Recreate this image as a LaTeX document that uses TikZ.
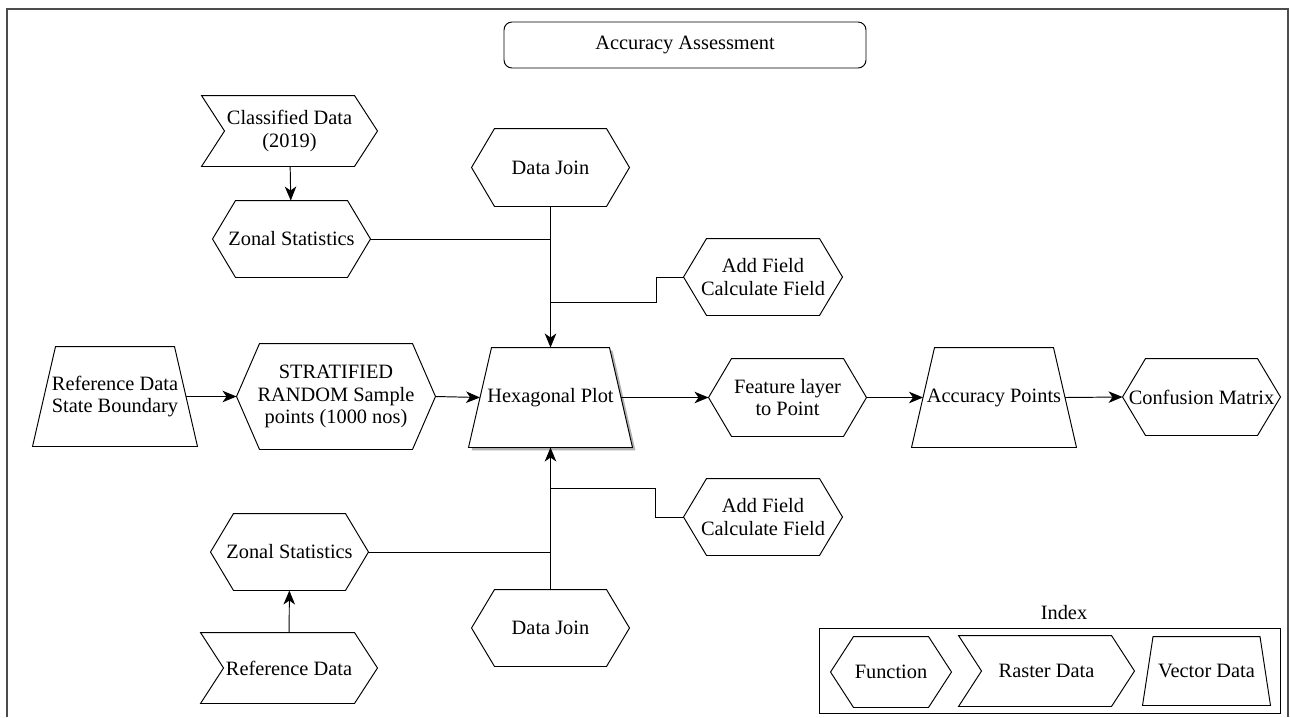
\documentclass[tikz,border=0pt]{standalone}
\usepackage{fontspec}
\setmainfont{Liberation Serif}
\usetikzlibrary{arrows.meta,positioning,calc,backgrounds}
\newlength\pxu
\setlength\pxu{0.02cm}

\begin{document}
\begin{tikzpicture}[
  x=0.02cm, y=-0.02cm,
  >={Stealth[length=2.8mm,width=2.3mm,inset=0.8mm]},
  every path/.style={line width=.55pt},
  shp/.style={rectangle,inner sep=0pt,align=center,font=\fontsize{11.6}{12.8}\selectfont},
  % function: hexagon
  fn/.style 2 args={shp,minimum width=#1\pxu,minimum height=#2\pxu,
    append after command={\pgfextra{\let\nd\tikzlastnode
      \draw (\nd.west) -- ([xshift=23\pxu]\nd.north west)
      -- ([xshift=-23\pxu]\nd.north east) -- (\nd.east)
      -- ([xshift=-23\pxu]\nd.south east)
      -- ([xshift=23\pxu]\nd.south west) -- cycle;}}},
  % raster data: chevron
  ras/.style 2 args={shp,minimum width=#1\pxu,minimum height=#2\pxu,
    append after command={\pgfextra{\let\nd\tikzlastnode
      \draw (\nd.north west) -- ([xshift=-23\pxu]\nd.north east)
      -- (\nd.east) -- ([xshift=-23\pxu]\nd.south east)
      -- (\nd.south west) -- ([xshift=23\pxu]\nd.west) -- cycle;}}},
  % vector data: trapezoid (width taken at mid height)
  vec/.style n args={3}{shp,minimum width=#1\pxu,minimum height=#2\pxu,
    append after command={\pgfextra{\let\nd\tikzlastnode
      \draw ([xshift=#3\pxu]\nd.north west) -- ([xshift=-#3\pxu]\nd.north east)
      -- ([xshift=#3\pxu]\nd.south east) -- ([xshift=-#3\pxu]\nd.south west) -- cycle;}}},
  frame/.style={draw=black!70,line width=1.1pt}
]
\useasboundingbox (0,0) rectangle (1290,717);
\draw[frame] (7,717) -- (7,9) -- (1288,9) -- (1288,717);

\node[shp,draw,rounded corners=1.6mm,minimum width=362\pxu,minimum height=46\pxu] (title) at (685,45) {Accuracy Assessment};

% upper branch
\node[ras={175}{70}] (cls) at (289.5,131) {Classified Data\\(2019)};
\node[fn={157}{76}] (zs1) at (291.5,239) {Zonal Statistics};
\node[fn={157}{77}] (dj1) at (550.5,167.5) {Data Join};
\node[fn={158}{76}] (af1) at (763,277) {Add Field\\Calculate Field};

% main row
\node[vec={141}{99}{11.5}] (refsb) at (115,396.5) {Reference Data\\State Boundary};
\node[fn={198}{105}] (strat) at (336,396.5) {STRATIFIED\\RANDOM Sample\\points (1000 nos)};
\node[vec={140}{99}{11.5}] (hexplot) at (550.5,397.5) {Hexagonal Plot};
\node[fn={157}{77}] (feat) at (787.5,397.5) {Feature layer\\to Point};
\node[vec={141}{99}{11.5}] (accpts) at (994,397.5) {Accuracy Points};
\node[fn={157}{76}] (conf) at (1201.5,397) {Confusion Matrix};

% lower branch
\node[fn={157}{76}] (zs2) at (289.5,552) {Zonal Statistics};
\node[ras={176}{70}] (refd) at (289,668) {Reference Data};
\node[fn={157}{76}] (dj2) at (550.5,628) {Data Join};
\node[fn={158}{76}] (af2) at (763,517) {Add Field\\Calculate Field};

\begin{scope}[on background layer]
  \fill[black!30] ([xshift=14.5\pxu,yshift=-3\pxu]hexplot.north west) -- ([xshift=-8.5\pxu,yshift=-3\pxu]hexplot.north east)
    -- ([xshift=14.5\pxu,yshift=-3\pxu]hexplot.south east) -- ([xshift=-8.5\pxu,yshift=-3\pxu]hexplot.south west) -- cycle;
  \fill[white] ([xshift=11.5\pxu]hexplot.north west) -- ([xshift=-11.5\pxu]hexplot.north east)
    -- ([xshift=11.5\pxu]hexplot.south east) -- ([xshift=-11.5\pxu]hexplot.south west) -- cycle;
\end{scope}

\coordinate (j1) at (550.5,302);
\coordinate (j2) at (550.5,488);
\draw[->] (cls) -- (zs1);
\draw (zs1.east) -- (zs1.east -| dj1.south);
\draw[->] (dj1.south) -- (hexplot.north);
\draw (af1.west) -- ++(-27,0) |- (j1);
\draw[->] (refsb.east) -- (strat.west);
\draw[->] (strat.east) -- (hexplot.west);
\draw[->] (hexplot.east) -- (feat.west);
\draw[->] (feat.east) -- (accpts.west);
\draw[->] (accpts.east) -- (conf.west);
\draw[->] (refd) -- (zs2);
\draw (zs2.east) -- (zs2.east -| dj2.north);
\draw[->] (dj2.north) -- (hexplot.south);
\draw (af2.west) -- ++(-28,0) |- (j2);

% index
\node[shp] (idxlbl) at (1064,613) {Index};
\node[draw,minimum width=461\pxu,minimum height=85\pxu] (idx) at (1049.5,670.5) {};
\node[fn={120}{70}] (ifn) at (891,672) {Function};
\node[ras={175}{70}] (iras) at (1046.5,671) {Raster Data};
\node[vec={116.5}{68}{5.25}] (ivec) at (1206.5,671) {Vector Data};
\end{tikzpicture}
\end{document}
